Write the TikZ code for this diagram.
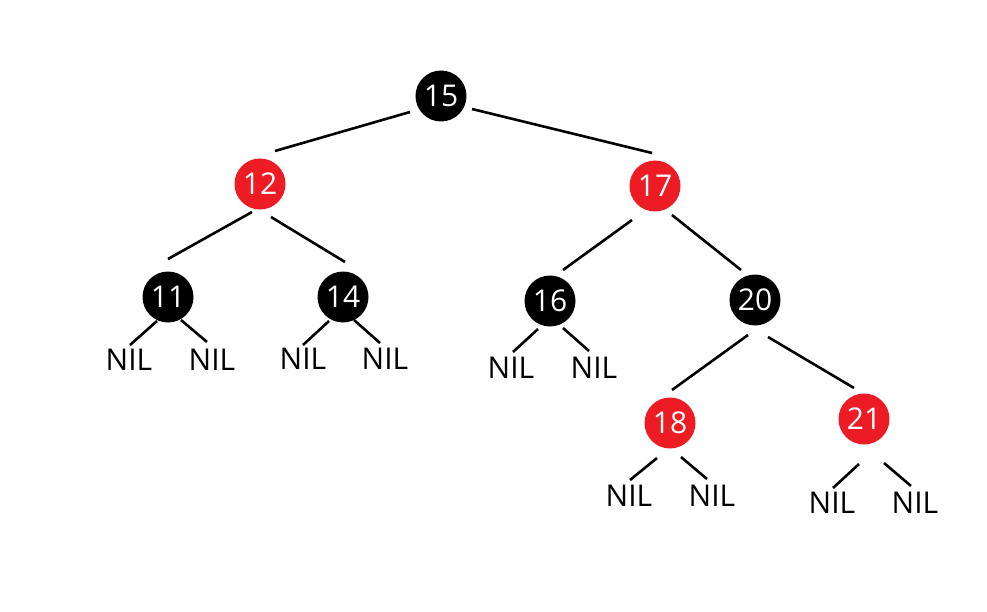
\documentclass[tikz,border=0pt]{standalone}
\usepackage{fontspec}
\setmainfont{Open Sans}
\usetikzlibrary{calc}
\definecolor{paintred}{RGB}{237,28,36}

\begin{document}
\begin{tikzpicture}[x=1pt,y=-1pt,
    black node/.style={circle, fill=black, text=white, minimum size=51pt, inner sep=0pt, font=\fontsize{30}{34}\selectfont},
    red node/.style={black node, fill=paintred},
    nil/.style={inner sep=0pt, font=\fontsize{30}{34}\selectfont},
    edge/.style={line width=2.6pt}]
    \useasboundingbox (0,0) rectangle (987,612);

    % inner nodes
    \node[black node] (n15) at (441,96) {15};
    \node[red node]   (n12) at (260,184) {12};
    \node[red node]   (n17) at (655,186) {17};
    \node[black node] (n11) at (168,297) {11};
    \node[black node] (n14) at (343,297) {14};
    \node[black node] (n16) at (550,301) {16};
    \node[black node] (n20) at (755,300) {20};
    \node[red node]   (n18) at (670,423) {18};
    \node[red node]   (n21) at (864,419) {21};

    % leaves
    \node[nil] (nil11l) at (129,360) {NIL};
    \node[nil] (nil11r) at (212,360) {NIL};
    \node[nil] (nil14l) at (303,359) {NIL};
    \node[nil] (nil14r) at (385,359) {NIL};
    \node[nil] (nil16l) at (511,368) {NIL};
    \node[nil] (nil16r) at (594,368) {NIL};
    \node[nil] (nil18l) at (629,496) {NIL};
    \node[nil] (nil18r) at (712,496) {NIL};
    \node[nil] (nil21l) at (832,503) {NIL};
    \node[nil] (nil21r) at (915,503) {NIL};

    % tree edges
    \draw[edge] ($(n15)+(-31,16)$) -- ($(n12)+(15,-33)$);
    \draw[edge] ($(n15)+(31,13)$) -- ($(n17)+(-3,-33)$);
    \draw[edge] ($(n12)+(-8,28)$) -- ($(n11)+(0,-38)$);
    \draw[edge] ($(n12)+(11,33)$) -- ($(n14)+(2,-35)$);
    \draw[edge] ($(n17)+(-23,34)$) -- ($(n16)+(13,-31)$);
    \draw[edge] ($(n17)+(17,29)$) -- ($(n20)+(-14,-30)$);
    \draw[edge] ($(n20)+(-7,35)$) -- ($(n18)+(2,-33)$);
    \draw[edge] ($(n20)+(13,37)$) -- ($(n21)+(-10,-31)$);

    % leaf edges
    \draw[edge] ($(n11)+(-11,24)$) -- ($(nil11l)+(1,-15)$);
    \draw[edge] ($(n11)+(13,23)$) -- ($(nil11r)+(-5,-18)$);
    \draw[edge] ($(n14)+(-14,24)$) -- ($(nil14l)+(0,-14)$);
    \draw[edge] ($(n14)+(11,23)$) -- ($(nil14r)+(-5,-16)$);
    \draw[edge] ($(n16)+(-12,28)$) -- ($(nil16l)+(2,-16)$);
    \draw[edge] ($(n16)+(13,27)$) -- ($(nil16r)+(-5,-17)$);
    \draw[edge] ($(n18)+(-13,35)$) -- ($(nil18l)+(1,-16)$);
    \draw[edge] ($(n18)+(11,34)$) -- ($(nil18r)+(-5,-17)$);
    \draw[edge] ($(n21)+(-5,45)$) -- ($(nil21l)+(1,-15)$);
    \draw[edge] ($(n21)+(20,44)$) -- ($(nil21r)+(-4,-17)$);
\end{tikzpicture}
\end{document}
